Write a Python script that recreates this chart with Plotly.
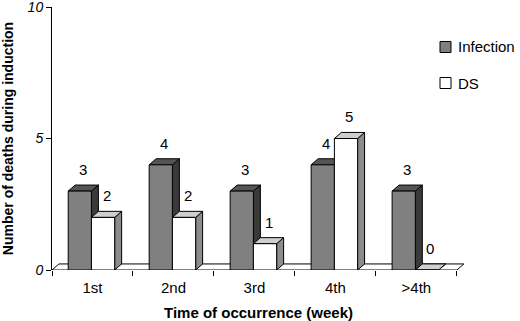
import plotly.graph_objects as go

categories = ["1st", "2nd", "3rd", "4th", ">4th"]
infection = [3, 4, 3, 4, 3]
ds = [2, 2, 1, 5, 0]
series_names = ["Infection", "DS"]

DX, DY = 0.086, 0.23   # 3D depth in data units
W = 0.287
OFF_INF, OFF_DS = 0.2, 0.2 + W
INF_COL, DS_COL = "#808080", "white"

def front(x0, h):
    return [x0, x0 + W, x0 + W, x0, x0, None], [0, 0, h, h, 0, None]

def side(x0, h):
    x1 = x0 + W
    return [x1, x1 + DX, x1 + DX, x1, x1, None], [0, DY, h + DY, h, 0, None]

def top(x0, h):
    x1 = x0 + W
    return [x0, x1, x1 + DX, x0 + DX, x0, None], [h, h, h + DY, h + DY, h, None]

def poly_trace(fn, vals, off, fill):
    xs, ys = [], []
    for i, v in enumerate(vals):
        a, b = fn(i + off, v)
        xs += a
        ys += b
    return go.Scatter(x=xs, y=ys, mode="lines", fill="toself", fillcolor=fill,
                      line=dict(color="black", width=1), showlegend=False, hoverinfo="skip")

fig = go.Figure()
n = len(categories)
# floor
fig.add_trace(go.Scatter(x=[0, n, n + DX, DX, 0], y=[0, 0, DY, DY, 0], mode="lines",
                         fill="toself", fillcolor="white", line=dict(color="black", width=1),
                         showlegend=False, hoverinfo="skip"))
fig.add_trace(poly_trace(side, infection, OFF_INF, "#3a3a3a"))
fig.add_trace(poly_trace(top, infection, OFF_INF, "#555555"))
fig.add_trace(poly_trace(front, infection, OFF_INF, INF_COL))
fig.add_trace(poly_trace(side, ds, OFF_DS, "#8c8c8c"))
fig.add_trace(poly_trace(top, ds, OFF_DS, "#cfcfcf"))
fig.add_trace(poly_trace(front, ds, OFF_DS, DS_COL))

# value labels
for vals, off in [(infection, OFF_INF), (ds, OFF_DS)]:
    for i, v in enumerate(vals):
        fig.add_annotation(x=i + off + W / 2 + DX / 2, y=v + DY, text=str(v),
                           showarrow=False, yanchor="bottom", yshift=5,
                           font=dict(family="Liberation Sans, Arial", size=15, color="black"))

# custom legend (paper coordinates, plot domain = px 52..465 x 7..270)
L, R, T, B = 52, 55, 7, 51
PW, PH = 520 - L - R, 321 - T - B
def px(x):
    return (x - L) / PW
def py(y):
    return (321 - B - y) / PH
for name, col, yc in [(series_names[0], INF_COL, 47), (series_names[1], DS_COL, 83)]:
    fig.add_shape(type="rect", xref="paper", yref="paper",
                  x0=px(440), x1=px(451), y0=py(yc + 5.5), y1=py(yc - 5.5),
                  fillcolor=col, line=dict(color="black", width=1))
    fig.add_annotation(xref="paper", yref="paper", x=px(456), y=py(yc), text=name,
                       showarrow=False, xanchor="left", yanchor="middle",
                       font=dict(family="Liberation Sans, Arial", size=15, color="black"))

fig.update_layout(
    width=520, height=321,
    margin=dict(l=L, r=R, t=T, b=B),
    plot_bgcolor="white", paper_bgcolor="white",
    font=dict(family="Liberation Sans, Arial", color="black"),
    showlegend=False,
    xaxis=dict(range=[0, n + 0.1], showgrid=False, zeroline=False, showline=False,
               automargin=False,
               tickvals=[i + 0.5 for i in range(n)], ticktext=categories, ticks="",
               tickfont=dict(size=15), ticklabelstandoff=7,
               minor=dict(tickvals=list(range(n + 1)), ticks="outside", ticklen=5,
                          tickcolor="black", showgrid=False),
               title=dict(text="<b>Time of occurrence (week)</b>", font=dict(size=15), standoff=12)),
    yaxis=dict(range=[0, 10], tickvals=[0, 5, 10], showgrid=False, zeroline=False,
               automargin=False, ticklabeloverflow="allow",
               showline=True, linecolor="black", linewidth=1,
               ticks="outside", ticklen=5, tickcolor="black",
               tickfont=dict(size=14, style="italic"),
               title=dict(text="<b>Number of deaths during induction</b>", font=dict(size=14), standoff=19)),
)

fig.write_html("out.html", config={"displayModeBar": False},
               post_script="document.body.style.margin='0';")
